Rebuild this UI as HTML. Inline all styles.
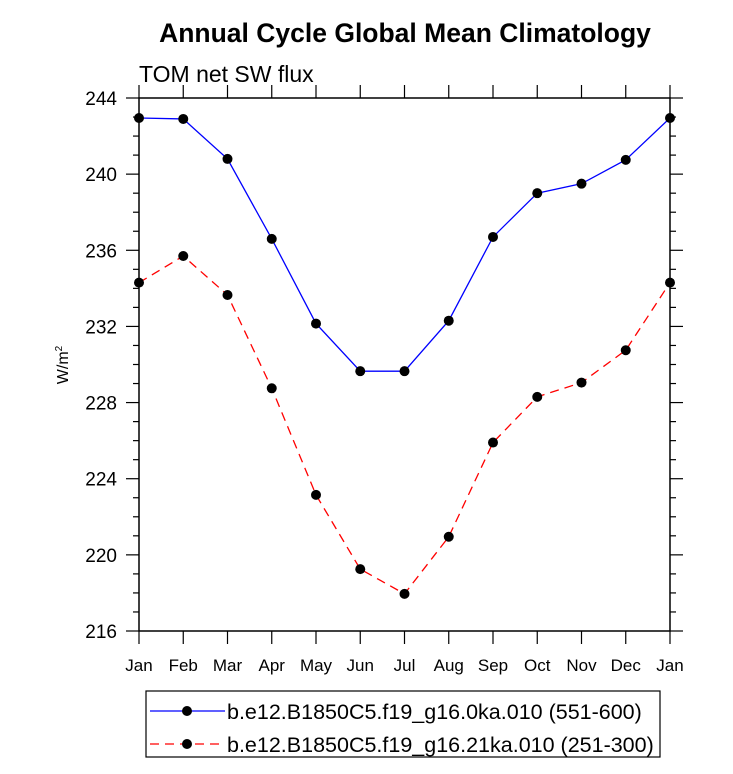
<!DOCTYPE html>
<html><head><meta charset="utf-8"><style>
body{margin:0;background:#fff}
svg text{font-family:"Liberation Sans",Helvetica,sans-serif}
</style></head><body>
<svg id="c" width="733" height="769" xmlns="http://www.w3.org/2000/svg">
<text x="405" y="42" text-anchor="middle" font-size="26.5" font-weight="bold">Annual Cycle Global Mean Climatology</text>
<text x="139" y="82" font-size="23">TOM net SW flux</text>
<text transform="translate(68,365) rotate(-90)" text-anchor="middle" font-size="16">W/m<tspan dy="-6" font-size="10">2</tspan></text>
<g id="axes"></g>
<g id="series"></g>
<g>
<rect x="146" y="691" width="514" height="66" fill="none" stroke="#000" stroke-width="1.2"/>
<g>
<line x1="150" y1="711" x2="225" y2="711" stroke="#00f" stroke-width="1.3"/>
<circle cx="187" cy="711" r="5" fill="#000"/>
<text x="227" y="719" font-size="21.5">b.e12.B1850C5.f19_g16.0ka.010 (551-600)</text>
</g>
<g>
<line x1="150" y1="744" x2="225" y2="744" stroke="#f00" stroke-width="1.3" stroke-dasharray="9,6"/>
<circle cx="187" cy="744" r="5" fill="#000"/>
<text x="227" y="752" font-size="21.5">b.e12.B1850C5.f19_g16.21ka.010 (251-300)</text>
</g>
</g>
</svg>
<script>
const months=["Jan","Feb","Mar","Apr","May","Jun","Jul","Aug","Sep","Oct","Nov","Dec","Jan"];
const yTicks=[216,220,224,228,232,236,240,244];
const series1=[242.95,242.9,240.8,236.6,232.15,229.65,229.65,232.3,236.7,239.0,239.5,240.75,242.95];
const series2=[234.3,235.7,233.65,228.75,223.15,219.25,217.95,220.95,225.9,228.3,229.05,230.75,234.3];
const L=139,R=670,T=98,B=631,ymin=216,ymax=244;
const NS="http://www.w3.org/2000/svg";
const xs=i=>L+(R-L)*i/(months.length-1);
const ys=v=>B-(B-T)*(v-ymin)/(ymax-ymin);
function mk(t,a,p){const e=document.createElementNS(NS,t);for(const k in a)e.setAttribute(k,a[k]);p.appendChild(e);return e;}
const ax=document.getElementById('axes');
const frame=mk('rect',{x:L,y:T,width:R-L,height:B-T,fill:'none',stroke:'#000','stroke-width':1.5},ax);


for(let v=ymin;v<=ymax;v+=1){
  const maj=yTicks.includes(v);const len=maj?13:6;const y=ys(v);
  mk('line',{x1:L-len,y1:y,x2:L,y2:y,stroke:'#000','stroke-width':1.2},ax);
  mk('line',{x1:R,y1:y,x2:R+len,y2:y,stroke:'#000','stroke-width':1.2},ax);
}
yTicks.forEach(v=>{const t=mk('text',{x:117,y:ys(v)+7,'text-anchor':'end','font-size':19},ax);t.textContent=v;

});
months.forEach((m,i)=>{const x=xs(i);
  mk('line',{x1:x,y1:T-13,x2:x,y2:T,stroke:'#000','stroke-width':1.2},ax);
  mk('line',{x1:x,y1:B,x2:x,y2:B+13,stroke:'#000','stroke-width':1.2},ax);
  const t=mk('text',{x:x,y:671,'text-anchor':'middle','font-size':17},ax);t.textContent=m;
  
  
});
const sg=document.getElementById('series');
function draw(vals,col,dash,name){
  const g=mk('g',{},sg);
  
  
  const a={points:vals.map((v,i)=>xs(i)+','+ys(v)).join(' '),fill:'none',stroke:col,'stroke-width':1.3};
  if(dash)a['stroke-dasharray']=dash;
  mk('polyline',a,g);
  vals.forEach((v,i)=>{const c=mk('circle',{cx:xs(i),cy:ys(v),r:5,fill:'#000'},g);
    
    });
}
draw(series1,'#00f',null,'series-0ka');
draw(series2,'#f00','9,6','series-21ka');
</script>
</body></html>
